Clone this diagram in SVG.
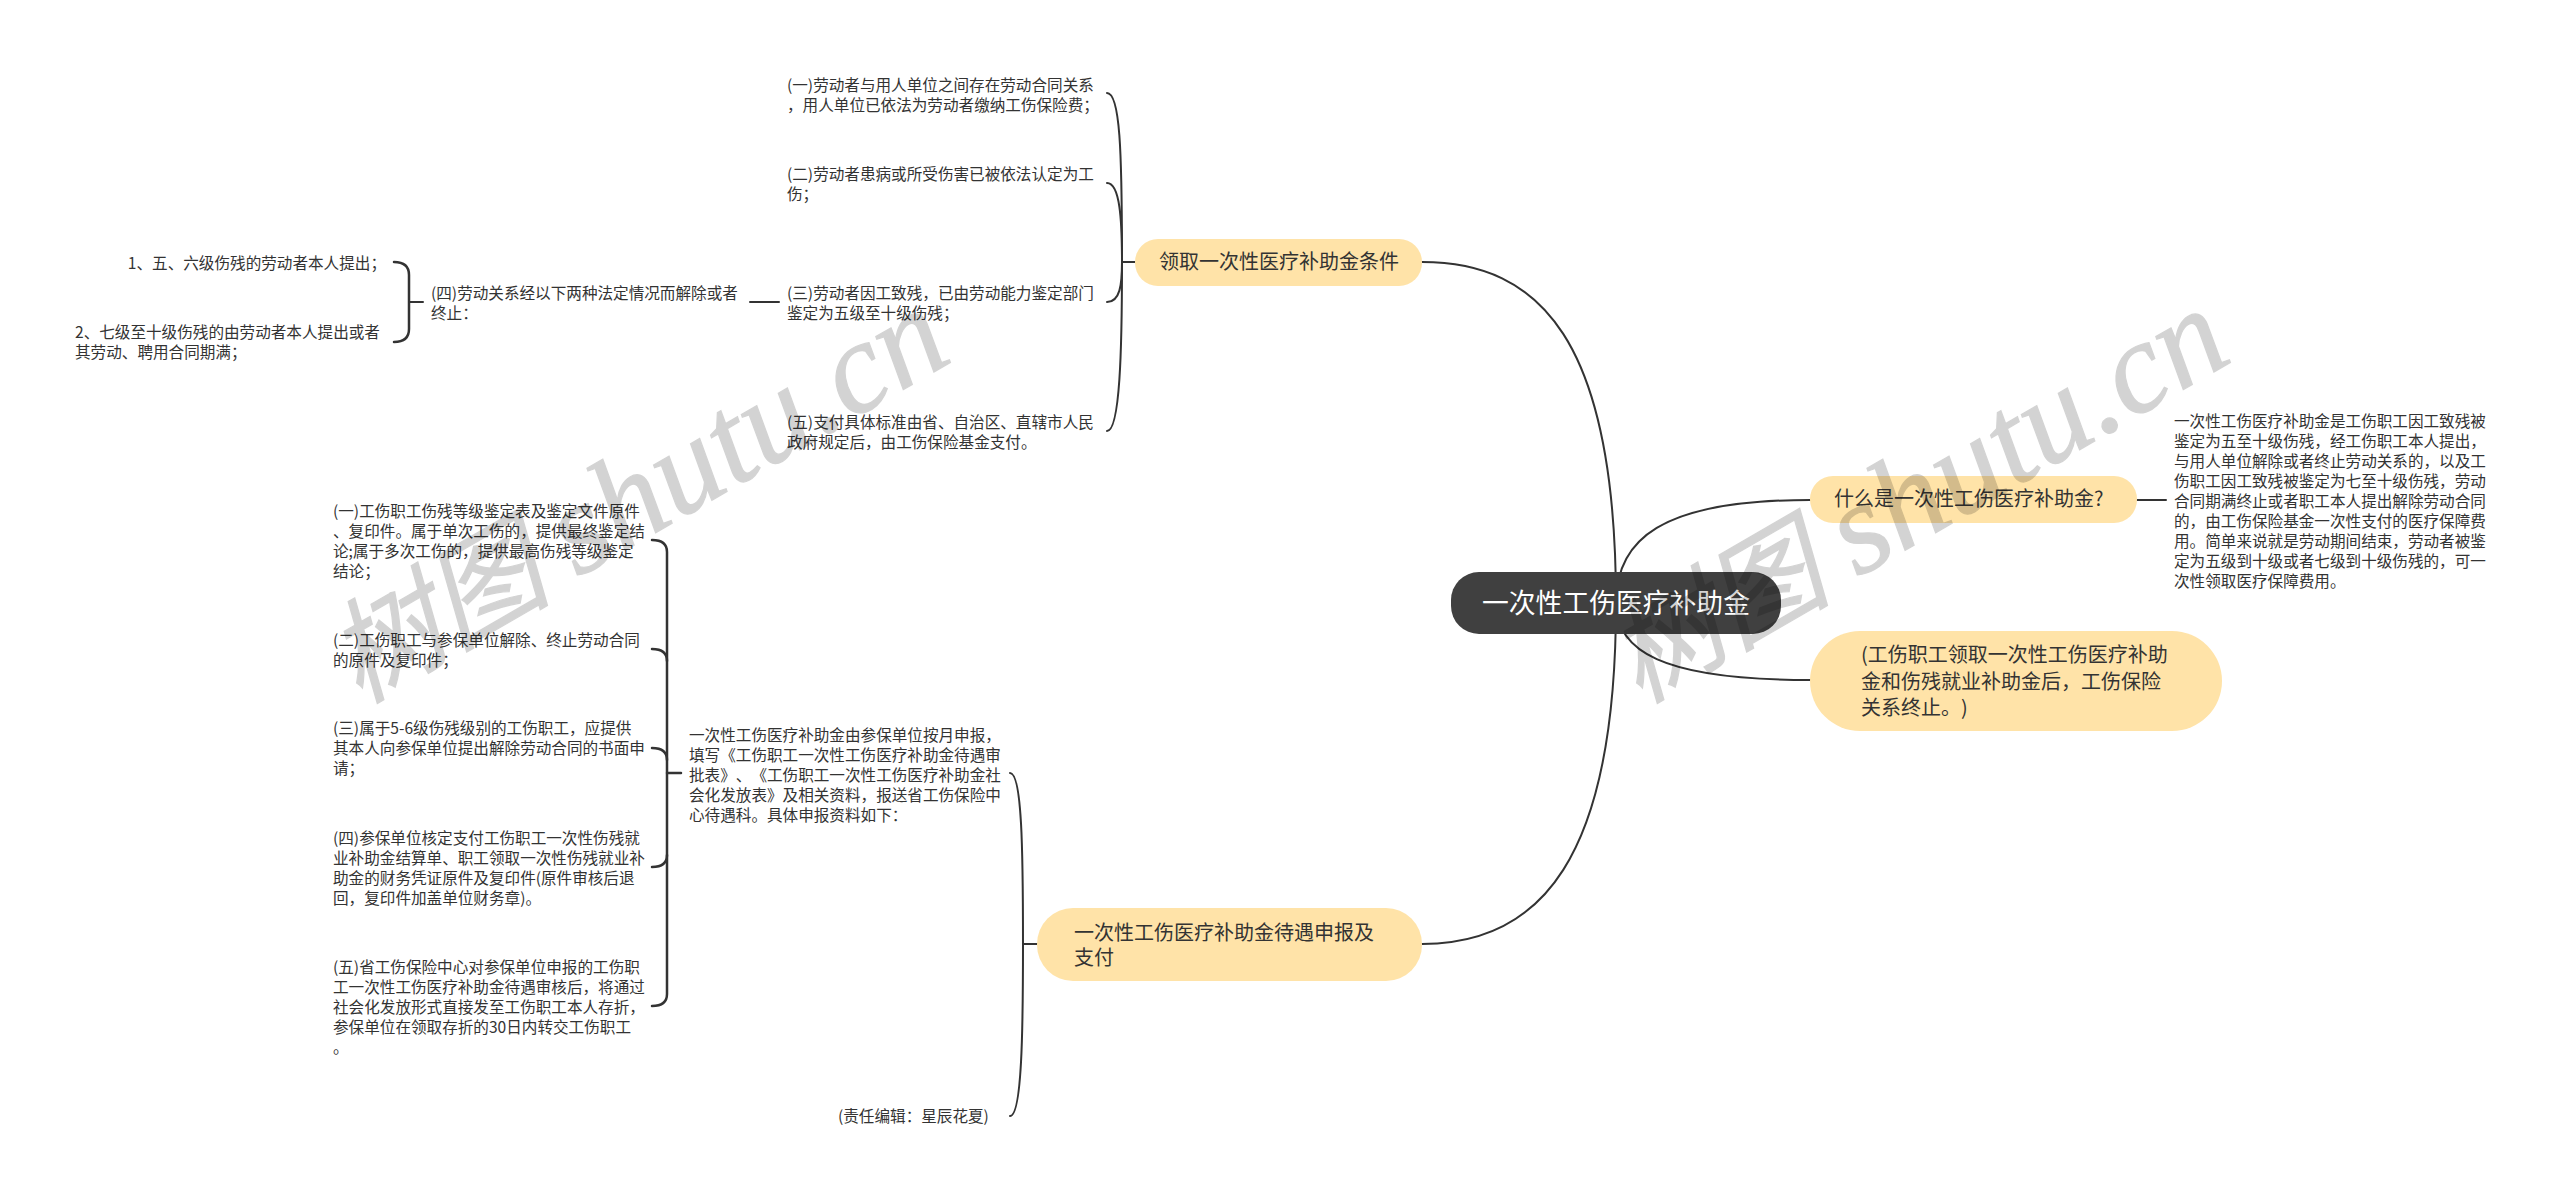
<svg xmlns="http://www.w3.org/2000/svg" width="2560" height="1200" viewBox="0 0 2560 1200">
<style>
text{font-family:"Noto Sans CJK SC","Liberation Sans",sans-serif;fill:#333;text-spacing-trim:space-all}
.s{font-size:15.6px}
.m{font-size:20px}
.r{font-size:26.8px;fill:#fff}
.end{text-anchor:end}
.pill{fill:#ffe3a8}
.c{fill:none;stroke:#333;stroke-width:2;stroke-linecap:round}
.t{stroke-width:2.5}
text.wm{font-family:"Liberation Serif","Noto Sans CJK SC",serif;font-style:italic;font-size:130px;fill:#000;stroke:#000;stroke-width:1.2;opacity:.17}
.wc{font-size:112px}
</style>
<rect width="2560" height="1200" fill="#fff"/>
<g id="connectors" class="c">
<path d="M1422 262C1540 262 1616 340 1616 603"/>
<path d="M1422 944C1540 944 1616 860 1616 603"/>
<path d="M1616 603C1616 540 1660 500 1810 500"/>
<path d="M1616 603C1616 650 1660 680 1810 680"/>
<path d="M2137 500H2166"/>
<path d="M1135 262H1122"/>
<path d="M1122 262C1122 150 1120 93 1107 93"/>
<path d="M1122 262C1122 220 1120 183 1107 183"/>
<path d="M1122 262C1122 285 1120 302 1107 302"/>
<path d="M1122 262C1122 350 1120 431 1107 431"/>
<path d="M779 302H750"/>
<path d="M423 302H409"/>
<path class="t" d="M394 262Q409 262 409 275V329Q409 342 394 342"/>
<path d="M1037 944H1023"/>
<path d="M1023 944C1023 850 1022 773 1010 773"/>
<path d="M1023 944C1023 1030 1022 1116 1010 1116"/>
<path class="t" d="M681 773H667"/>
<path class="t" d="M652 540Q667 540 667 552V994Q667 1006 652 1006"/>
<path class="t" d="M652 649Q667 649 667 661"/>
<path class="t" d="M652 748Q667 748 667 760"/>
<path class="t" d="M652 867Q667 867 667 855"/>
</g>
<g id="root"><rect x="1451" y="572" width="330" height="62" rx="28" fill="#404040"/><text class="r" x="1482" y="613">一次性工伤医疗补助金</text></g>
<g id="b1"><rect class="pill" x="1135" y="239" width="287" height="47" rx="23"/><text class="m" x="1159" y="269">领取一次性医疗补助金条件</text></g>
<g id="b2"><rect class="pill" x="1037" y="908" width="385" height="73" rx="36"/><text class="m" x="1074" y="940">一次性工伤医疗补助金待遇申报及</text><text class="m" x="1074" y="965">支付</text></g>
<g id="b3"><rect class="pill" x="1810" y="476" width="327" height="47" rx="23"/><text class="m" x="1834" y="506">什么是一次性工伤医疗补助金?</text></g>
<g id="b4"><rect class="pill" x="1810" y="631" width="412" height="100" rx="50"/><text class="m" x="1861" y="662">(工伤职工领取一次性工伤医疗补助</text><text class="m" x="1861" y="689">金和伤残就业补助金后，工伤保险</text><text class="m" x="1861" y="715">关系终止。)</text></g>
<g id="n1" class="s"><text x="787" y="90.500">(一)劳动者与用人单位之间存在劳动合同关系</text><text x="787" y="110.500">，用人单位已依法为劳动者缴纳工伤保险费；</text></g>
<g id="n2" class="s"><text x="787" y="179.500">(二)劳动者患病或所受伤害已被依法认定为工</text><text x="787" y="199.500">伤；</text></g>
<g id="n3" class="s"><text x="787" y="298.500">(三)劳动者因工致残，已由劳动能力鉴定部门</text><text x="787" y="318.500">鉴定为五级至十级伤残；</text></g>
<g id="n4" class="s"><text x="787" y="427.500">(五)支付具体标准由省、自治区、直辖市人民</text><text x="787" y="447.500">政府规定后，由工伤保险基金支付。</text></g>
<g id="n5" class="s"><text x="431" y="298.500">(四)劳动关系经以下两种法定情况而解除或者</text><text x="431" y="318.500">终止：</text></g>
<g id="n6" class="s"><text class="end" x="386" y="268.500">1、五、六级伤残的劳动者本人提出；</text></g>
<g id="n7" class="s"><text x="75" y="337.500">2、七级至十级伤残的由劳动者本人提出或者</text><text x="75" y="357.500">其劳动、聘用合同期满；</text></g>
<g id="n8" class="s"><text x="333" y="516.500">(一)工伤职工伤残等级鉴定表及鉴定文件原件</text><text x="333" y="536.500">、复印件。属于单次工伤的，提供最终鉴定结</text><text x="333" y="556.500">论;属于多次工伤的，提供最高伤残等级鉴定</text><text x="333" y="576.500">结论；</text></g>
<g id="n9" class="s"><text x="333" y="645.500">(二)工伤职工与参保单位解除、终止劳动合同</text><text x="333" y="665.500">的原件及复印件；</text></g>
<g id="n10" class="s"><text x="333" y="733.500">(三)属于5-6级伤残级别的工伤职工，应提供</text><text x="333" y="753.500">其本人向参保单位提出解除劳动合同的书面申</text><text x="333" y="773.500">请；</text></g>
<g id="n11" class="s"><text x="333" y="843.500">(四)参保单位核定支付工伤职工一次性伤残就</text><text x="333" y="863.500">业补助金结算单、职工领取一次性伤残就业补</text><text x="333" y="883.500">助金的财务凭证原件及复印件(原件审核后退</text><text x="333" y="903.500">回，复印件加盖单位财务章)。</text></g>
<g id="n12" class="s"><text x="333" y="972.500">(五)省工伤保险中心对参保单位申报的工伤职</text><text x="333" y="992.500">工一次性工伤医疗补助金待遇审核后，将通过</text><text x="333" y="1012.500">社会化发放形式直接发至工伤职工本人存折，</text><text x="333" y="1032.500">参保单位在领取存折的30日内转交工伤职工</text><text x="333" y="1052.500">。</text></g>
<g id="n13" class="s"><text x="689" y="740.500">一次性工伤医疗补助金由参保单位按月申报，</text><text x="689" y="760.500">填写《工伤职工一次性工伤医疗补助金待遇审</text><text x="689" y="780.500">批表》、《工伤职工一次性工伤医疗补助金社</text><text x="689" y="800.500">会化发放表》及相关资料，报送省工伤保险中</text><text x="689" y="820.500">心待遇科。具体申报资料如下：</text></g>
<g id="n14" class="s"><text x="838" y="1121.500">(责任编辑：星辰花夏)</text></g>
<g id="n15" class="s"><text x="2174" y="426.500">一次性工伤医疗补助金是工伤职工因工致残被</text><text x="2174" y="446.500">鉴定为五至十级伤残，经工伤职工本人提出，</text><text x="2174" y="466.500">与用人单位解除或者终止劳动关系的，以及工</text><text x="2174" y="486.500">伤职工因工致残被鉴定为七至十级伤残，劳动</text><text x="2174" y="506.500">合同期满终止或者职工本人提出解除劳动合同</text><text x="2174" y="526.500">的，由工伤保险基金一次性支付的医疗保障费</text><text x="2174" y="546.500">用。简单来说就是劳动期间结束，劳动者被鉴</text><text x="2174" y="566.500">定为五级到十级或者七级到十级伤残的，可一</text><text x="2174" y="586.500">次性领取医疗保障费用。</text></g>
<g id="watermarks">
<text class="wm" transform="translate(359 704) rotate(-30)"><tspan class="wc">树图 </tspan>shutu.cn</text>
<text class="wm" transform="translate(1639 704) rotate(-30)"><tspan class="wc">树图 </tspan>shutu.cn</text>
</g>
</svg>
